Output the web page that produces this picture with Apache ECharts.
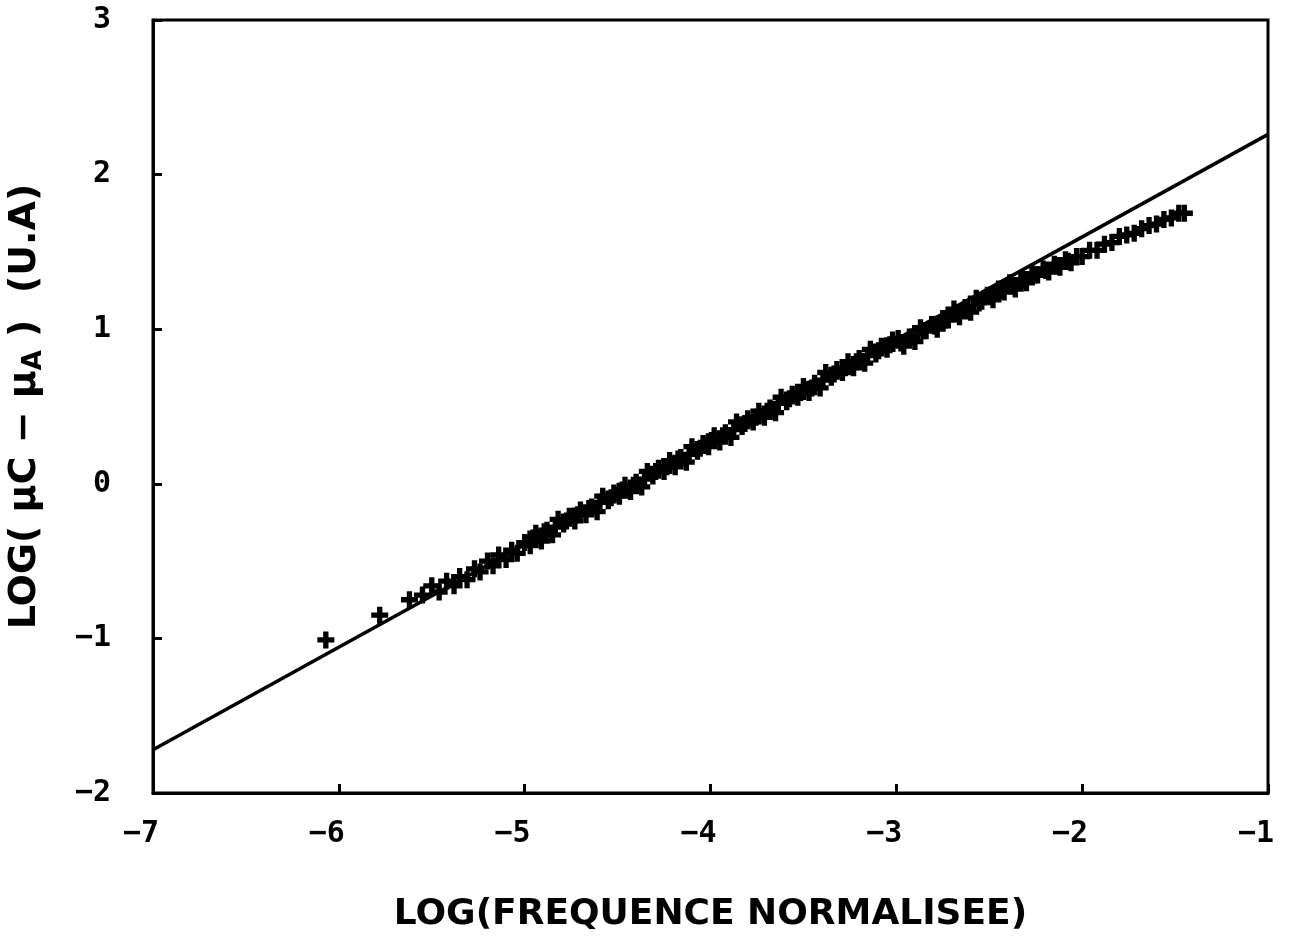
<!DOCTYPE html>
<html><head><meta charset="utf-8">
<script src="https://cdn.jsdelivr.net/npm/echarts@6/dist/echarts.min.js"></script>
<style>html,body{margin:0;padding:0;background:#fff}#c{width:1289px;height:950px}</style>
</head><body><div id="c"></div>
<script>
// tick values
const xTicks = [-7, -6, -5, -4, -3, -2, -1];
const yTicks = [-2, -1, 0, 1, 2, 3];
// fitted straight line (end points)
const fitX = [-7, -1];
const fitY = [-1.72, 2.26];
const measX = [
  -6.07, -5.78, -5.62, -5.55, -5.50, -5.46, -5.42, -5.38, -5.35, -5.31, -5.27, -5.24, -5.20, -5.17, -5.14, -5.10, -5.07, -5.04, -5.00, -4.97,
  -4.94, -4.91, -4.88, -4.85, -4.82, -4.79, -4.76, -4.73, -4.70, -4.67, -4.64, -4.61, -4.58, -4.55, -4.52, -4.49, -4.46, -4.43, -4.40, -4.37,
  -4.34, -4.31, -4.28, -4.25, -4.22, -4.19, -4.16, -4.13, -4.10, -4.07, -4.04, -4.01, -3.98, -3.95, -3.92, -3.89, -3.86, -3.83, -3.80, -3.77,
  -3.74, -3.71, -3.68, -3.65, -3.62, -3.59, -3.56, -3.53, -3.50, -3.47, -3.44, -3.41, -3.38, -3.35, -3.32, -3.29, -3.26, -3.23, -3.20, -3.17,
  -3.14, -3.11, -3.08, -3.05, -3.02,
  -2.99, -2.96, -2.93, -2.90, -2.87, -2.84, -2.81, -2.78, -2.75, -2.72, -2.69, -2.66, -2.63, -2.60, -2.57, -2.54, -2.51, -2.48, -2.45, -2.42,
  -2.39, -2.36, -2.33, -2.30, -2.27, -2.24, -2.21, -2.18, -2.15, -2.12, -2.09, -2.06, -2.03, -2.00, -1.96, -1.92, -1.88, -1.84, -1.80, -1.76,
  -1.72, -1.68, -1.64, -1.60, -1.56, -1.52, -1.48, -1.45
];
const measY = [
  -1.01, -0.85, -0.75, -0.72, -0.66, -0.70, -0.63, -0.66, -0.60, -0.62, -0.55, -0.57, -0.50, -0.53, -0.46, -0.49, -0.43, -0.45, -0.38, -0.40,
  -0.32, -0.37, -0.30, -0.33, -0.23, -0.26, -0.21, -0.24, -0.17, -0.20, -0.15, -0.18, -0.08, -0.11, -0.06, -0.08, -0.01, -0.05, 0.01, -0.02,
  0.08, 0.05, 0.10, 0.08, 0.15, 0.11, 0.17, 0.14, 0.24, 0.21, 0.26, 0.24, 0.31, 0.27, 0.33, 0.30, 0.40, 0.37, 0.42, 0.40,
  0.47, 0.43, 0.49, 0.46, 0.56, 0.53, 0.58, 0.56, 0.63, 0.59, 0.65, 0.62, 0.72, 0.69, 0.74, 0.72, 0.79, 0.75, 0.81, 0.78,
  0.87, 0.84, 0.89, 0.87, 0.93,
  0.94, 0.89, 0.95, 0.92, 1.01, 0.99, 1.03, 1.00, 1.07, 1.06, 1.13, 1.08, 1.14, 1.11, 1.20, 1.18, 1.22, 1.19, 1.26, 1.24,
  1.30, 1.26, 1.32, 1.30, 1.36, 1.35, 1.39, 1.37, 1.42, 1.40, 1.45, 1.43, 1.47, 1.47, 1.51, 1.51, 1.55, 1.56, 1.60, 1.61,
  1.62, 1.65, 1.67, 1.68, 1.71, 1.72, 1.75, 1.75
];
// measured points: core of the dense band
const coreX = [
  -4.955, -4.895, -4.835, -4.775, -4.715, -4.655, -4.595, -4.535, -4.475, -4.415, -4.355, -4.295, -4.235, -4.175, -4.115, -4.055,
  -3.995, -3.935, -3.875, -3.815, -3.755, -3.695, -3.635, -3.575, -3.515, -3.455, -3.395, -3.335, -3.275, -3.215, -3.155, -3.095, -3.035,
  -2.975, -2.915, -2.855, -2.795, -2.735, -2.675, -2.615, -2.555, -2.495, -2.435, -2.375, -2.315, -2.255, -2.195, -2.135, -2.075
];
const coreY = [
  -0.35, -0.31, -0.28, -0.24, -0.20, -0.16, -0.12, -0.09, -0.04, -0.01, 0.03, 0.08, 0.11, 0.16, 0.19, 0.23,
  0.28, 0.31, 0.35, 0.39, 0.43, 0.47, 0.52, 0.55, 0.59, 0.62, 0.67, 0.71, 0.75, 0.79, 0.83, 0.86, 0.90,
  0.91, 0.95, 0.99, 1.02, 1.06, 1.10, 1.14, 1.17, 1.21, 1.25, 1.28, 1.32, 1.35, 1.38, 1.41, 1.44
];

const fitData = fitX.map((x, i) => [x, fitY[i]]);
const measData = measX.map((x, i) => [x, measY[i]]).concat(coreX.map((x, i) => [x, coreY[i]]));
const fmt = v => String(v).replace('-', '\u2212');
const PLUS = 'path://M5.5,0H10.5V5.5H16V10.5H10.5V16H5.5V10.5H0V5.5H5.5Z';

const chart = echarts.init(document.getElementById('c'), null, {renderer: 'canvas'});
chart.setOption({
  animation: false,
  backgroundColor: '#fff',
  grid: {left: 153, right: 21, top: 20, bottom: 157, show: true, borderColor: '#000', borderWidth: 3, outerBoundsMode: 'none', containLabel: false},
  xAxis: {
    type: 'value', min: xTicks[0], max: xTicks[xTicks.length - 1], interval: 1,
    axisLine: {show: true, onZero: false, lineStyle: {color: '#000', width: 3}},
    axisTick: {show: true, inside: true, length: 9, lineStyle: {color: '#000', width: 3}},
    splitLine: {show: false},
    axisLabel: {formatter: fmt, margin: 26, color: '#000', fontFamily: 'DejaVu Sans Mono', fontWeight: 'bold', fontSize: 30, align: 'right', padding: [0, -6, 0, 0]},
    name: 'LOG(FREQUENCE NORMALISEE)', nameLocation: 'middle', nameGap: 104,
    nameTextStyle: {color: '#000', fontFamily: 'DejaVu Sans', fontWeight: 'bold', fontSize: 36}
  },
  yAxis: {
    type: 'value', min: yTicks[0], max: yTicks[yTicks.length - 1], interval: 1,
    axisLine: {show: true, onZero: false, lineStyle: {color: '#000', width: 3}},
    axisTick: {show: true, inside: true, length: 9, lineStyle: {color: '#000', width: 3}},
    splitLine: {show: false},
    axisLabel: {formatter: fmt, margin: 42, color: '#000', fontFamily: 'DejaVu Sans Mono', fontWeight: 'bold', fontSize: 30},
    name: '{a|LOG( \u00b5C \u2212 \u00b5}{s|A}{a| )  (U.A)}', nameLocation: 'middle', nameGap: 106, nameRotate: 90,
    nameTextStyle: {
      color: '#000',
      rich: {
        a: {fontFamily: 'DejaVu Sans', fontWeight: 'bold', fontSize: 38, color: '#000', lineHeight: 44},
        s: {fontFamily: 'DejaVu Sans', fontWeight: 'bold', fontSize: 26, color: '#000', lineHeight: 44, verticalAlign: 'bottom', padding: [14, 0, 0, 0]}
      }
    }
  },
  series: [
    {type: 'line', data: fitData, showSymbol: false, symbol: 'none', lineStyle: {color: '#000', width: 3.5}, z: 2},
    {type: 'scatter', data: measData, symbol: PLUS, symbolSize: 17, itemStyle: {color: '#000', opacity: 1}, z: 3}
  ]
});
</script>
</body></html>
